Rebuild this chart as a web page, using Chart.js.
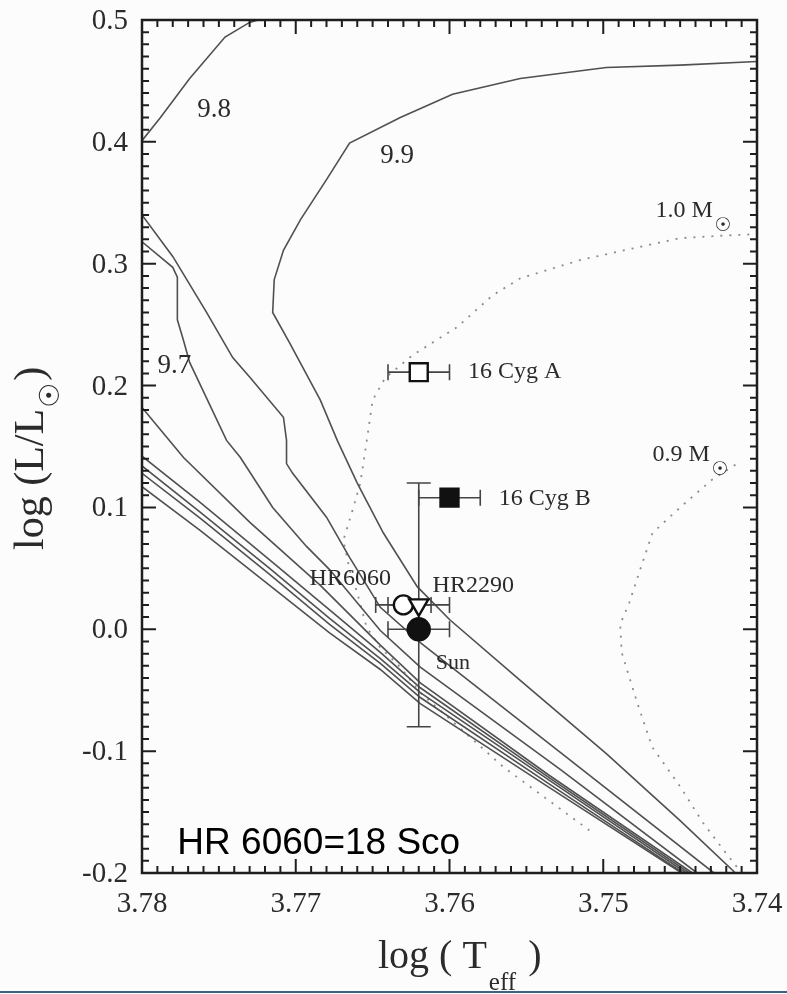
<!DOCTYPE html>
<html>
<head>
<meta charset="utf-8">
<script src="https://cdn.jsdelivr.net/npm/chart.js@4.4.0/dist/chart.umd.min.js"></script>
<style>
  html, body { margin: 0; padding: 0; background: #fcfcfc; }
  #wrap { position: relative; width: 787px; height: 994px; }
  #bar { position: absolute; left: 0; bottom: 1px; width: 787px; height: 2px; background: #3d6282; }
</style>
</head>
<body>
<div id="wrap"><canvas id="hrd" width="787" height="994"></canvas><div id="bar"></div></div>
<script>
// axis ticks
const xTickVals = [3.78, 3.77, 3.76, 3.75, 3.74];
const xTickText = ['3.78', '3.77', '3.76', '3.75', '3.74'];
const yTickVals = [-0.2, -0.1, 0.0, 0.1, 0.2, 0.3, 0.4, 0.5];
const yTickText = ['-0.2', '-0.1', '0.0', '0.1', '0.2', '0.3', '0.4', '0.5'];

// isochrones, [log Teff, log L/Lsun]
const iso98 = [[3.7800,0.401],[3.7788,0.420],[3.7769,0.452],[3.7746,0.486],[3.7730,0.498],[3.7722,0.501]];
const iso99 = [[3.7400,0.466],[3.7450,0.463],[3.7498,0.461],[3.7554,0.452],[3.7598,0.439],[3.7632,0.420],
  [3.7665,0.399],[3.7680,0.369],[3.7697,0.336],[3.7708,0.311],[3.7714,0.287],[3.7715,0.260],[3.7704,0.235],
  [3.7684,0.188],[3.7673,0.155],[3.7660,0.120],[3.7643,0.079],[3.7621,0.035],[3.7600,0.008],[3.7554,-0.042],
  [3.7498,-0.102],[3.7450,-0.157],[3.7414,-0.200]];
const isoA = [[3.7800,0.340],[3.7780,0.306],[3.7758,0.260],[3.7741,0.223],[3.7730,0.207],[3.7708,0.174],
  [3.7706,0.155],[3.7706,0.136],[3.7702,0.128],[3.7680,0.092],[3.7665,0.059],[3.7645,0.018],[3.7619,-0.011],
  [3.7524,-0.105],[3.7428,-0.200]];
const isoB = [[3.7800,0.318],[3.7780,0.297],[3.7777,0.289],[3.7777,0.254],[3.7773,0.237],[3.7769,0.219],
  [3.7745,0.155],[3.7736,0.141],[3.7715,0.100],[3.7693,0.068],[3.7678,0.049],[3.7645,-0.001],[3.7619,-0.031],
  [3.7528,-0.115],[3.7439,-0.200]];
const isoC = [[3.7800,0.182],[3.7773,0.141],[3.7730,0.088],[3.7684,0.036],[3.7645,-0.013],[3.7619,-0.044],[3.7535,-0.120],[3.7442,-0.200]];
const isoD = [[3.7800,0.142],[3.7762,0.104],[3.7717,0.057],[3.7678,0.016],[3.7645,-0.019],[3.7619,-0.048],[3.7535,-0.122],[3.7444,-0.200]];
const isoE = [[3.7800,0.134],[3.7762,0.096],[3.7717,0.050],[3.7678,0.009],[3.7645,-0.024],[3.7619,-0.052],[3.7535,-0.124],[3.7446,-0.200]];
const isoF = [[3.7800,0.128],[3.7762,0.091],[3.7717,0.045],[3.7678,0.004],[3.7645,-0.028],[3.7619,-0.056],[3.7535,-0.127],[3.7448,-0.200]];
const isoG = [[3.7800,0.117],[3.7762,0.081],[3.7717,0.036],[3.7678,-0.003],[3.7645,-0.033],[3.7619,-0.061],[3.7535,-0.130],[3.7449,-0.200]];

// evolutionary tracks (dotted)
const track10 = [[3.7405,0.324],[3.7423,0.323],[3.7450,0.321],[3.7472,0.315],[3.7515,0.303],[3.7554,0.288],
  [3.7572,0.274],[3.7595,0.248],[3.7624,0.225],[3.7642,0.206],[3.7650,0.188],[3.7654,0.153],[3.7658,0.120],
  [3.7663,0.098],[3.7669,0.073],[3.7665,0.049],[3.7660,0.030],[3.7654,0.002],[3.7645,-0.015],[3.7632,-0.031],
  [3.7619,-0.052],[3.7565,-0.113],[3.7509,-0.165]];
const track09 = [[3.7414,0.135],[3.7429,0.123],[3.7450,0.100],[3.7468,0.079],[3.7476,0.049],[3.7483,0.022],
  [3.7489,0.004],[3.7488,-0.019],[3.7478,-0.060],[3.7468,-0.097],[3.7450,-0.129],[3.7435,-0.159],
  [3.7420,-0.184],[3.7410,-0.200]];

// observed stars
const starNames  = ['16 Cyg A', '16 Cyg B', 'HR6060', 'HR2290', 'Sun'];
const starTeff   = [3.762, 3.760, 3.763, 3.762, 3.762];
const starLum    = [0.211, 0.108, 0.020, 0.020, 0.000];
const starTeffErr = [0.002, 0.002, 0.0018, 0.002, 0.002];
const starLumErr  = [0, 0, 0, 0.10, 0];

// text placed in data space: [text, logTeff, logL]
const isoLabels  = [['9.8', 3.7764, 0.420], ['9.9', 3.7645, 0.383], ['9.7', 3.7790, 0.210]];
const massLabels = [['1.0 M', 3.7466, 0.338], ['0.9 M', 3.7468, 0.138]];
const starLabels = [['16 Cyg A', 3.7588, 0.206], ['16 Cyg B', 3.7568, 0.102], ['HR2290', 3.7611, 0.031],
  ['HR6060', 3.7691, 0.036]];
const sunLabel = ['Sun', 3.7609, -0.033];
const noteLabel = ['HR 6060=18 Sco', 3.7777, -0.184];

const SERIF = '"Liberation Serif", "DejaVu Serif", serif';
const INK = '#2b2b2b';

const pts = arr => arr.map(p => ({ x: p[0], y: p[1] }));
const solid = arr => ({ data: pts(arr), showLine: true, borderColor: '#505050', borderWidth: 1.6,
  pointRadius: 0, tension: 0, fill: false, order: 1 });
const dotted = arr => ({ data: pts(arr), showLine: true, borderColor: '#8c8c8c', borderWidth: 1.8,
  borderDash: [2, 7], pointRadius: 0, tension: 0, fill: false, order: 1 });

const markShape  = ['rect', 'rect', 'circle', 'triangle', 'circle'];
const markRadius = [12.7, 12.7, 9.5, 11, 11];
const markRot    = [0, 0, 0, 180, 0];
const markFill   = ['#ffffff', '#111111', '#ffffff', '#ffffff', '#111111'];

const datasets = [
  {
    label: 'stars', order: 0,
    data: starNames.map((n, i) => ({ x: starTeff[i], y: starLum[i] })),
    pointStyle: markShape, pointRadius: markRadius, pointRotation: markRot,
    backgroundColor: markFill, borderColor: '#111111', borderWidth: 2.4, showLine: false
  },
  solid(iso98), solid(iso99), solid(isoA), solid(isoB),
  solid(isoC), solid(isoD), solid(isoE), solid(isoF), solid(isoG),
  dotted(track10), dotted(track09)
];

function drawErrorBars(chart) {
  const { ctx, scales: { x, y } } = chart;
  ctx.save();
  ctx.strokeStyle = '#444';
  ctx.lineWidth = 1.6;
  starNames.forEach((n, i) => {
    const px = x.getPixelForValue(starTeff[i]);
    const py = y.getPixelForValue(starLum[i]);
    ctx.beginPath();
    if (starTeffErr[i] > 0) {
      const x0 = x.getPixelForValue(starTeff[i] + starTeffErr[i]);
      const x1 = x.getPixelForValue(starTeff[i] - starTeffErr[i]);
      ctx.moveTo(x0, py); ctx.lineTo(x1, py);
      ctx.moveTo(x0, py - 8); ctx.lineTo(x0, py + 8);
      ctx.moveTo(x1, py - 8); ctx.lineTo(x1, py + 8);
    }
    if (starLumErr[i] > 0) {
      const y0 = y.getPixelForValue(starLum[i] + starLumErr[i]);
      const y1 = y.getPixelForValue(starLum[i] - starLumErr[i]);
      ctx.moveTo(px, y0); ctx.lineTo(px, y1);
      ctx.moveTo(px - 12, y0); ctx.lineTo(px + 12, y0);
      ctx.moveTo(px - 12, y1); ctx.lineTo(px + 12, y1);
    }
    ctx.stroke();
  });
  ctx.restore();
}

const decor = {
  id: 'decor',
  beforeDatasetDraw(chart, args) {
    if (args.index === 0) drawErrorBars(chart);
  },
  afterDraw(chart) {
    const { ctx, chartArea: a, scales: { x, y } } = chart;
    ctx.save();

    // frame with inward ticks on all four sides
    ctx.strokeStyle = '#1e1e1e';
    ctx.lineWidth = 2.5;
    ctx.strokeRect(a.left, a.top, a.right - a.left, a.bottom - a.top);
    ctx.lineWidth = 2;
    ctx.beginPath();
    for (let i = 0; i <= 40; i++) {
      const px = x.getPixelForValue(3.74 + i * 0.001);
      const len = i % 10 === 0 ? 14 : 7;
      ctx.moveTo(px, a.bottom); ctx.lineTo(px, a.bottom - len);
      ctx.moveTo(px, a.top); ctx.lineTo(px, a.top + len);
    }
    for (let i = 0; i <= 70; i++) {
      const py = y.getPixelForValue(-0.2 + i * 0.01);
      const len = i % 10 === 0 ? 14 : 7;
      ctx.moveTo(a.left, py); ctx.lineTo(a.left + len, py);
      ctx.moveTo(a.right, py); ctx.lineTo(a.right - len, py);
    }
    ctx.stroke();

    // tick labels
    ctx.fillStyle = INK;
    ctx.font = '29px ' + SERIF;
    ctx.textBaseline = 'alphabetic';
    ctx.textAlign = 'center';
    xTickVals.forEach((v, i) => ctx.fillText(xTickText[i], x.getPixelForValue(v), a.bottom + 39));
    ctx.textAlign = 'right';
    yTickVals.forEach((v, i) => ctx.fillText(yTickText[i], a.left - 14, y.getPixelForValue(v) + 9));

    // axis titles
    ctx.textAlign = 'left';
    ctx.font = '40px ' + SERIF;
    const xt = 'log ( T';
    const x0 = 378, yb = a.bottom + 95;
    ctx.fillText(xt, x0, yb);
    let w = ctx.measureText(xt).width;
    ctx.font = '25px ' + SERIF;
    ctx.fillText('eff', x0 + w + 2, yb + 22);
    w += ctx.measureText('eff').width + 4;
    ctx.font = '40px ' + SERIF;
    ctx.fillText(' )', x0 + w, yb);

    ctx.save();
    ctx.translate(43, 550);
    ctx.rotate(-Math.PI / 2);
    ctx.font = '42px ' + SERIF;
    const yt = 'log (L/L';
    ctx.fillText(yt, 0, 0);
    let wy = ctx.measureText(yt).width;
    ctx.font = 'bold 28px "DejaVu Sans"';
    ctx.fillText('\u2609', wy + 1, 16);
    wy += ctx.measureText('\u2609').width + 3;
    ctx.font = '42px ' + SERIF;
    ctx.fillText(')', wy, 0);
    ctx.restore();

    // labels inside the plot
    const put = (lab, font) => {
      ctx.font = font;
      ctx.fillText(lab[0], x.getPixelForValue(lab[1]), y.getPixelForValue(lab[2]));
      return ctx.measureText(lab[0]).width;
    };
    ctx.fillStyle = INK;
    isoLabels.forEach(l => put(l, '27px ' + SERIF));
    starLabels.forEach(l => put(l, '24px ' + SERIF));
    put(sunLabel, '22px ' + SERIF);
    massLabels.forEach(l => {
      const wm = put(l, '24px ' + SERIF);
      ctx.font = 'bold 19px "DejaVu Sans"';
      ctx.fillText('\u2609', x.getPixelForValue(l[1]) + wm + 2, y.getPixelForValue(l[2]) + 14);
    });
    ctx.fillStyle = '#000';
    put(noteLabel, '37px "Liberation Sans", Arial, sans-serif');

    ctx.restore();
  }
};

new Chart(document.getElementById('hrd'), {
  type: 'scatter',
  data: { datasets },
  options: {
    responsive: false,
    animation: false,
    events: [],
    layout: { padding: { left: 142, right: 30, top: 20, bottom: 121 } },
    plugins: { legend: { display: false }, tooltip: { enabled: false } },
    scales: {
      x: { type: 'linear', min: 3.74, max: 3.78, reverse: true, display: false },
      y: { type: 'linear', min: -0.2, max: 0.5, display: false }
    }
  },
  plugins: [decor]
});
</script>
</body>
</html>
